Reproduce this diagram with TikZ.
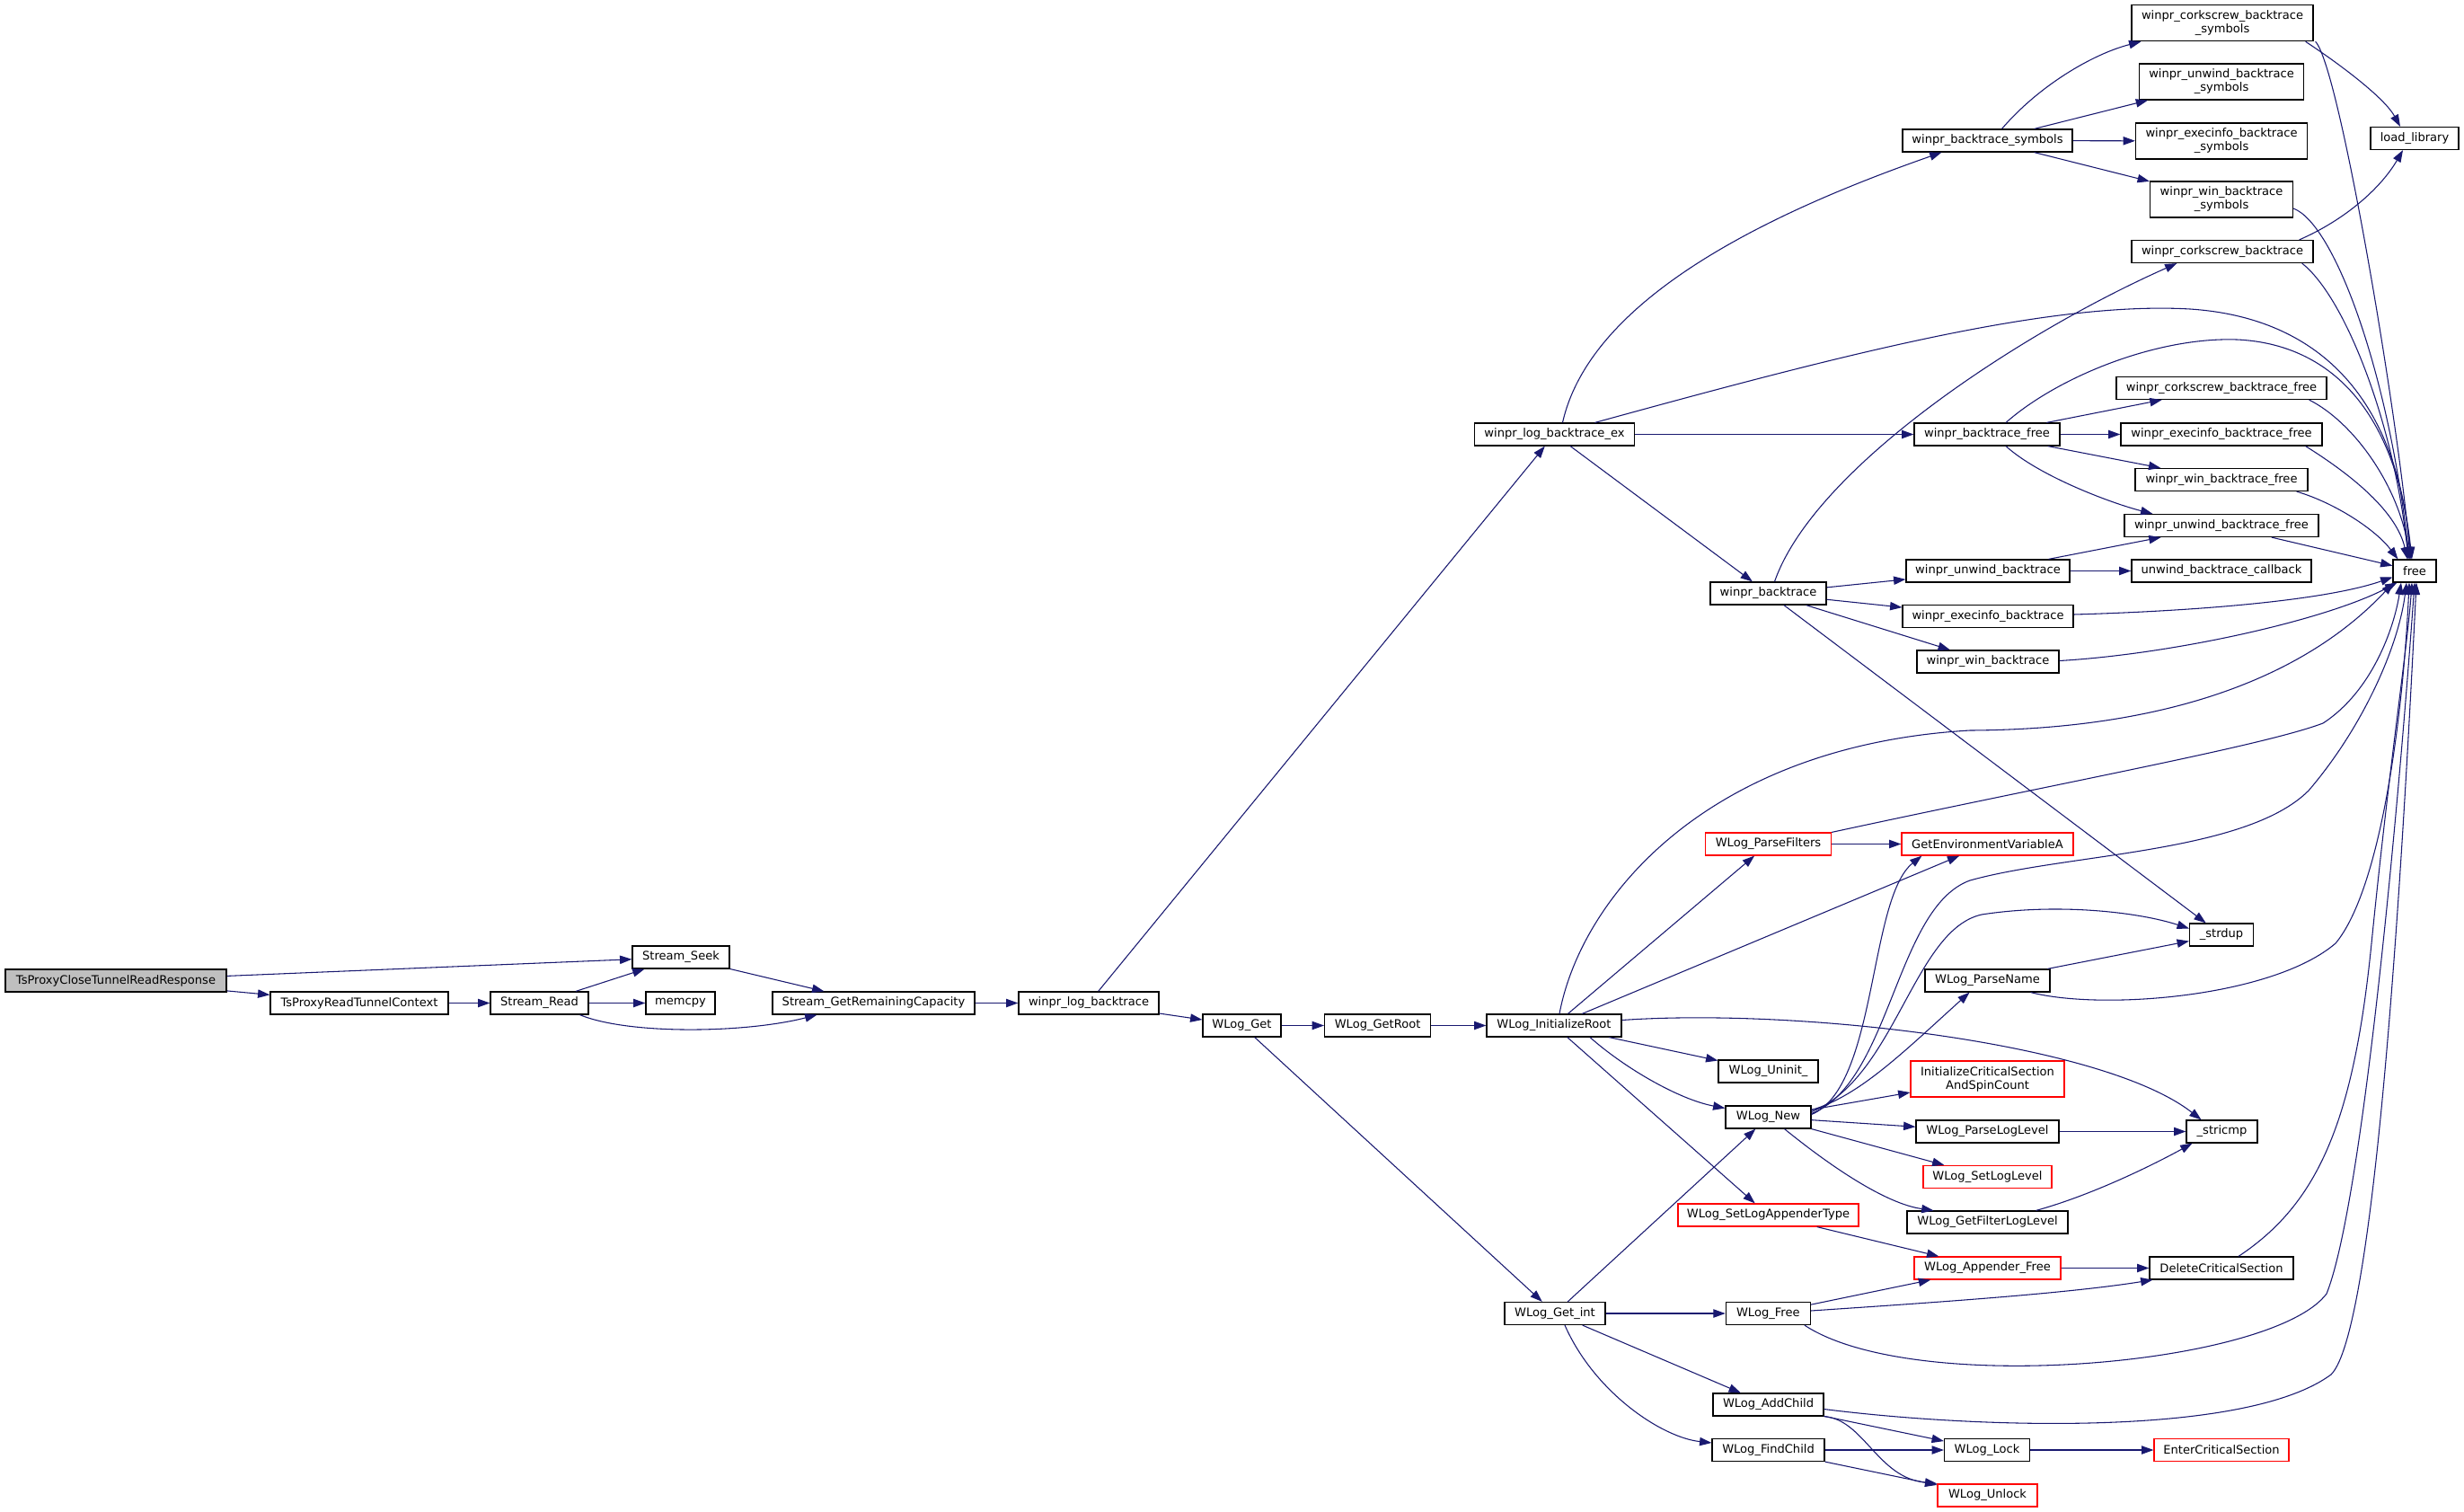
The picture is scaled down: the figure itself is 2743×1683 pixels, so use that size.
\documentclass[tikz,border=0pt]{standalone}
\usepackage{fontspec}
\setmainfont{DejaVu Sans}
\usetikzlibrary{arrows.meta,calc}
\definecolor{edgec}{HTML}{191970}
\definecolor{rootfill}{HTML}{BFBFBF}
\begin{document}
\begin{tikzpicture}[x=0.75pt,y=-0.75pt,
  nb/.style={draw=black,line width=0.9pt,fill=white,inner sep=0pt,minimum height=18.75pt,
    font=\fontsize{9.8}{11.25}\selectfont,align=center},
  rn/.style={nb,draw=red},
  tl/.style={minimum height=30pt},
  ed/.style={draw=edgec,line width=0.8pt,-{Triangle[length=10pt,width=7pt]}}]
\fill[white] (0,0) rectangle (2743,1683);
\useasboundingbox (0,0) rectangle (2743,1683);

% nodes
\node[nb,fill=rootfill,minimum width=184.5pt] (root) at (129,1091.5) {TsProxyCloseTunnelReadResponse};
\node[nb,minimum width=148.5pt] (rtc) at (400,1116.5) {TsProxyReadTunnelContext};
\node[nb,minimum width=81.75pt] (sread) at (600.5,1116.5) {Stream\_Read};
\node[nb,minimum width=57.75pt] (memcpy) at (757.5,1116.5) {memcpy};
\node[nb,minimum width=81pt] (sseek) at (758,1065.5) {Stream\_Seek};
\node[nb,minimum width=168.75pt] (grc) at (972.5,1116.5) {Stream\_GetRemainingCapacity};
\node[nb,minimum width=117pt] (wlb) at (1212,1116.5) {winpr\_log\_backtrace};
\node[nb,minimum width=65.25pt] (wget) at (1382.5,1141.5) {WLog\_Get};
\node[nb,minimum width=88.5pt] (wgr) at (1533.6,1141.5) {WLog\_GetRoot};
\node[nb,minimum width=112.5pt] (wir) at (1730,1141.5) {WLog\_InitializeRoot};
\node[nb,minimum width=133.5pt] (wlbe) at (1730.5,483.5) {winpr\_log\_backtrace\_ex};
\node[nb,minimum width=141.75pt] (wbs) at (2212.5,156.5) {winpr\_backtrace\_symbols};
\node[nb,tl,minimum width=151.5pt] (cbs) at (2474,25.7) {winpr\_corkscrew\_backtrace\\\_symbols};
\node[nb,tl,minimum width=137.25pt] (ubs) at (2473,91) {winpr\_unwind\_backtrace\\\_symbols};
\node[nb,tl,minimum width=143.25pt] (ebs) at (2473,157) {winpr\_execinfo\_backtrace\\\_symbols};
\node[nb,tl,minimum width=119.25pt] (wibs) at (2473,222) {winpr\_win\_backtrace\\\_symbols};
\node[nb,minimum width=73.5pt] (ll) at (2688,154) {load\_library};
\node[nb,minimum width=151.5pt] (cb) at (2474,280) {winpr\_corkscrew\_backtrace};
\node[nb,minimum width=121.5pt] (wbf) at (2212,483.5) {winpr\_backtrace\_free};
\node[nb,minimum width=175.5pt] (cbf) at (2473,432) {winpr\_corkscrew\_backtrace\_free};
\node[nb,minimum width=168pt] (ebf) at (2473,483.5) {winpr\_execinfo\_backtrace\_free};
\node[nb,minimum width=144pt] (wibf) at (2473,534) {winpr\_win\_backtrace\_free};
\node[nb,minimum width=162pt] (ubf) at (2473,585) {winpr\_unwind\_backtrace\_free};
\node[nb,minimum width=36pt] (free) at (2688,635.5) {free};
\node[nb,minimum width=96.75pt] (wb) at (1968.5,660.5) {winpr\_backtrace};
\node[nb,minimum width=136.5pt] (ub) at (2213,635.5) {winpr\_unwind\_backtrace};
\node[nb,minimum width=150pt] (ubc) at (2473,635.5) {unwind\_backtrace\_callback};
\node[nb,minimum width=142.5pt] (eb) at (2213,686) {winpr\_execinfo\_backtrace};
\node[nb,minimum width=118.5pt] (wib) at (2213,736.5) {winpr\_win\_backtrace};
\node[rn,minimum width=105pt] (wpf) at (1968.5,939.5) {WLog\_ParseFilters};
\node[rn,minimum width=143.25pt] (gev) at (2212.5,939.5) {GetEnvironmentVariableA};
\node[nb,minimum width=53.25pt] (strdup) at (2473,1040.5) {\_strdup};
\node[nb,minimum width=104.25pt] (wpn) at (2212.5,1091.5) {WLog\_ParseName};
\node[rn,tl,minimum width=128.25pt] (icsa) at (2212.5,1201) {InitializeCriticalSection\\AndSpinCount};
\node[nb,minimum width=83.25pt] (wui) at (1968.5,1192.5) {WLog\_Uninit\_};
\node[nb,minimum width=71.25pt] (wnew) at (1968.5,1243.5) {WLog\_New};
\node[nb,minimum width=119.25pt] (wpll) at (2212.5,1259.5) {WLog\_ParseLogLevel};
\node[nb,minimum width=59.25pt] (stricmp) at (2473.5,1259.5) {\_stricmp};
\node[rn,minimum width=107.25pt] (wsll) at (2212.5,1310) {WLog\_SetLogLevel};
\node[rn,minimum width=150.75pt] (wslat) at (1968.5,1352.5) {WLog\_SetLogAppenderType};
\node[nb,minimum width=134.25pt] (wgfl) at (2212.5,1360.5) {WLog\_GetFilterLogLevel};
\node[rn,minimum width=122.25pt] (waf) at (2212.5,1411.5) {WLog\_Appender\_Free};
\node[nb,minimum width=120pt] (dcs) at (2473,1411.5) {DeleteCriticalSection};
\node[nb,minimum width=84pt] (wgi) at (1731,1462) {WLog\_Get\_int};
\node[nb,minimum width=70.5pt] (wfree) at (1968.3,1462) {WLog\_Free};
\node[nb,minimum width=92.25pt] (wac) at (1968.5,1563.5) {WLog\_AddChild};
\node[nb,minimum width=93.75pt] (wfc) at (1968.5,1614) {WLog\_FindChild};
\node[nb,minimum width=71.25pt] (wlock) at (2212,1614) {WLog\_Lock};
\node[rn,minimum width=112.5pt] (ecs) at (2473,1614) {EnterCriticalSection};
\node[rn,minimum width=83.25pt] (wunl) at (2212.5,1664.5) {WLog\_Unlock};

% edges
\draw[ed] (root) -- (sseek);
\draw[ed] (root) -- (rtc);
\draw[ed] (rtc) -- (sread);
\draw[ed] (sread) -- (sseek);
\draw[ed] (sread) -- (memcpy);
\draw[ed] ($(sread.south)+(45,0)$) .. controls (700,1152) and (830,1150) .. ($(grc.south)+(-63,0)$);
\draw[ed] (sseek) -- (grc);
\draw[ed] (grc) -- (wlb);
\draw[ed] (wlb) -- (wlbe);
\draw[ed] (wlb) -- (wget);
\draw[ed] (wget) -- (wgr);
\draw[ed] (wget) -- (wgi);
\draw[ed] (wgr) -- (wir);

\draw[ed] ($(wlbe.north)+(9,0)$) .. controls (1770,335) and (1960,240) .. ($(wbs.south)+(-51,0)$);
\draw[ed] ($(wlbe.north)+(45,0)$) .. controls (2050,395) and (2280,335) .. (2438,344) .. controls (2560,352) and (2665,420) .. ($(free.north)+(-4,0)$);
\draw[ed] (wlbe) -- (wbf);
\draw[ed] (wlbe) -- (wb);

\draw[ed] ($(wbs.north)+(16,0)$) .. controls (2270,95) and (2330,60) .. ($(cbs.south west)+(11,0)$);
\draw[ed] (wbs) -- (ubs);
\draw[ed] (wbs) -- (ebs);
\draw[ed] (wbs) -- (wibs);
\draw[ed] ($(cbs.south east)+(-9,0)$) .. controls (2610,75) and (2655,110) .. ($(ll.north)+(-16,0)$);
\draw[ed] ($(cbs.south east)+(2,0)$) .. controls (2605,75) and (2672,480) .. ($(free.north)+(-5,0)$);
\draw[ed] ($(wibs.east)+(0,10)$) .. controls (2600,250) and (2660,420) .. ($(free.north)+(-6,0)$);
\draw[ed] ($(cb.north east)+(-16,0)$) .. controls (2610,245) and (2650,210) .. ($(ll.south)+(-13,0)$);
\draw[ed] ($(cb.south east)+(-13,0)$) .. controls (2610,330) and (2665,470) .. ($(free.north)+(-7,0)$);

\draw[ed] ($(wbf.north)+(21,0)$) .. controls (2290,420) and (2400,375) .. (2490,378) .. controls (2580,382) and (2665,440) .. ($(free.north)+(-3,0)$);
\draw[ed] (wbf) -- (cbf);
\draw[ed] (wbf) -- (ebf);
\draw[ed] (wbf) -- (wibf);
\draw[ed] ($(wbf.south)+(21,0)$) .. controls (2270,530) and (2350,560) .. ($(ubf.north west)+(32,0)$);
\draw[ed] ($(cbf.south east)+(-20,0)$) .. controls (2620,470) and (2670,540) .. ($(free.north)+(-5,0)$);
\draw[ed] ($(ebf.south east)+(-19,0)$) .. controls (2620,530) and (2668,570) .. ($(free.north)+(-8,0)$);
\draw[ed] ($(wibf.south east)+(-13,0)$) .. controls (2600,560) and (2645,590) .. ($(free.north west)+(6,0)$);
\draw[ed] (ubf) -- (free);

\draw[ed] ($(wb.north)+(7,0)$) .. controls (2020,520) and (2250,370) .. ($(cb.south west)+(51,0)$);
\draw[ed] (wb) -- (ub);
\draw[ed] (wb) -- (eb);
\draw[ed] (wb) -- (wib);
\draw[ed] (wb) -- (strdup);
\draw[ed] (ub) -- (ubf);
\draw[ed] (ub) -- (ubc);
\draw[ed] ($(eb.east)+(0,-2)$) .. controls (2450,680) and (2590,668) .. ($(free.west)+(0,7)$);
\draw[ed] ($(wib.east)+(0,-1)$) .. controls (2420,728) and (2590,690) .. ($(free.south west)+(5,0)$);

\draw[ed] ($(wir.north)+(6,0)$) .. controls (1760,1000) and (1900,830) .. (2193,813) .. controls (2400,812) and (2560,760) .. ($(free.south west)+(1,0)$);
\draw[ed] (wir) -- (wpf);
\draw[ed] (wir) -- (gev);
\draw[ed] ($(wir.east)+(0,-6)$) .. controls (2000,1122) and (2340,1160) .. ($(stricmp.north)+(-23,0)$);
\draw[ed] (wir) -- (wui);
\draw[ed] ($(wir.south)+(40,0)$) .. controls (1810,1190) and (1870,1224) .. ($(wnew.west)+(0,-10)$);
\draw[ed] (wir) -- (wslat);

\draw[ed] (wpf) -- (gev);
\draw[ed] (wpf.north east) .. controls (2300,870) and (2520,830) .. (2586,805) .. controls (2640,770) and (2665,700) .. ($(free.south)+(-15,0)$);

\draw[ed] ($(wnew.east)+(0,-3)$) .. controls (2090,1210) and (2080,1000) .. ($(gev.south west)+(23,0)$);
\draw[ed] ($(wnew.east)+(0,-6)$) .. controls (2110,1200) and (2130,1035) .. (2206,1018) .. controls (2290,1005) and (2380,1015) .. ($(strdup.west)+(0,-7)$);
\draw[ed] ($(wnew.east)+(0,-4)$) .. controls (2105,1205) and (2110,1010) .. (2193,980) .. controls (2300,950) and (2500,950) .. (2570,880) .. controls (2630,810) and (2670,720) .. ($(free.south)+(-9,0)$);
\draw[ed] ($(wnew.east)+(0,-8)$) .. controls (2070,1220) and (2120,1170) .. ($(wpn.south)+(-20,0)$);
\draw[ed] (wnew) -- (icsa);
\draw[ed] (wnew) -- (wpll);
\draw[ed] (wnew) -- (wsll);
\draw[ed] ($(wnew.south)+(18,0)$) .. controls (2040,1300) and (2100,1340) .. ($(wgfl.north)+(-60,0)$);

\draw[ed] (wpn) -- (strdup);
\draw[ed] ($(wpn.south east)+(-22,0)$) .. controls (2340,1125) and (2530,1110) .. (2600,1050) .. controls (2650,990) and (2675,800) .. ($(free.south)+(-6,0)$);
\draw[ed] (wpll) -- (stricmp);
\draw[ed] ($(wgfl.north)+(54,0)$) .. controls (2330,1330) and (2400,1295) .. ($(stricmp.south)+(-33,0)$);
\draw[ed] (wslat) -- (waf);
\draw[ed] (waf) -- (dcs);
\draw[ed] ($(dcs.north)+(19,0)$) .. controls (2580,1340) and (2620,1250) .. (2640,1050) .. controls (2660,850) and (2680,720) .. ($(free.south)+(-3,0)$);

\draw[ed] (wgi) -- (wnew);
\draw[ed] (wgi) -- (wfree);
\draw[ed] (wgi) -- (wac);
\draw[ed] ($(wgi.south)+(11,0)$) .. controls (1775,1550) and (1850,1600) .. ($(wfc.west)+(0,-8)$);
\draw[ed] (wfree) -- (waf);
\draw[ed] ($(wfree.east)+(0,-3)$) .. controls (2150,1450) and (2300,1440) .. ($(dcs.south west)+(4,0)$);
\draw[ed] ($(wfree.south east)+(-7,0)$) .. controls (2130,1555) and (2530,1520) .. (2590,1440) .. controls (2630,1340) and (2670,900) .. (free.south);
\draw[ed] ($(wac.east)+(0,5)$) .. controls (2200,1590) and (2500,1600) .. (2595,1530) .. controls (2645,1480) and (2675,950) .. ($(free.south)+(2,0)$);
\draw[ed] (wac) -- (wlock);
\draw[ed] (wac.south east) .. controls (2075,1580) and (2090,1645) .. (wunl.north west);
\draw[ed] (wfc) -- (wlock);
\draw[ed] (wfc) -- (wunl);
\draw[ed] (wlock) -- (ecs);
\end{tikzpicture}
\end{document}
